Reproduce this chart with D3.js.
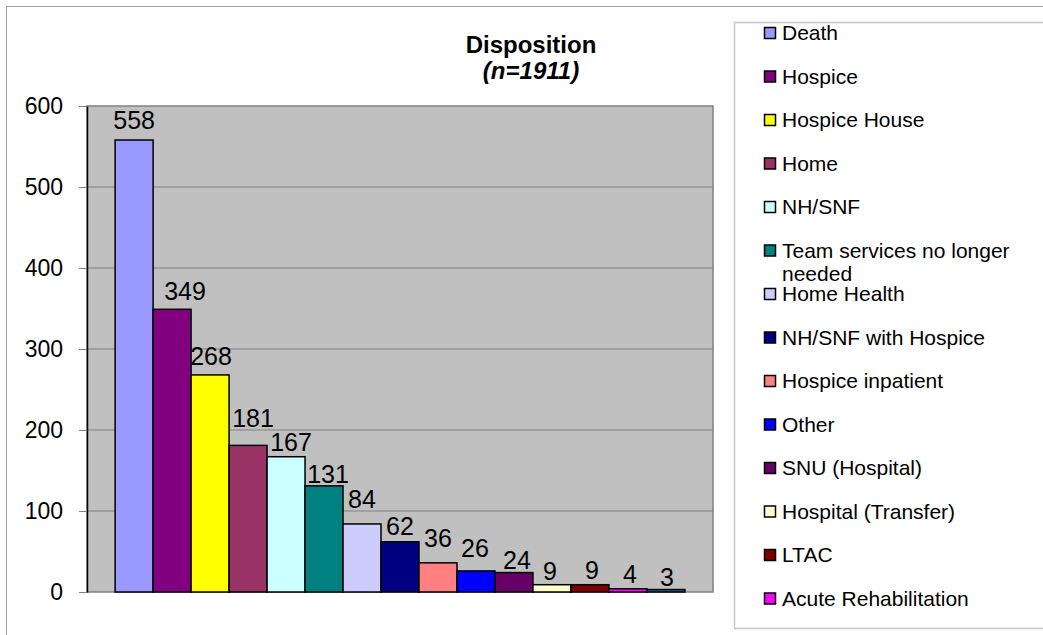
<!DOCTYPE html>
<html>
<head>
<meta charset="utf-8">
<script src="https://cdn.jsdelivr.net/npm/d3@7"></script>
<style>
  body { margin: 0; background: #fff; }
  text { font-family: "Liberation Sans", Arial, sans-serif; fill: #000; }
</style>
</head>
<body>
<div id="chart"></div>
<script>
// chart data
const categories = ["Death", "Hospice", "Hospice House", "Home", "NH/SNF",
    "Team services no longer needed", "Home Health", "NH/SNF with Hospice",
    "Hospice inpatient", "Other", "SNU (Hospital)", "Hospital (Transfer)",
    "LTAC", "Acute Rehabilitation", "Unlisted"];
const counts = [558, 349, 268, 181, 167, 131, 84, 62, 36, 26, 24, 9, 9, 4, 3];
const barColors = ["#9999FF", "#800080", "#FFFF00", "#993366", "#CCFFFF",
    "#008080", "#CCCCFF", "#000080", "#FF8080", "#0000FF", "#660066",
    "#FFFFCC", "#800000", "#FF00FF", "#336699"];
const yTicks = [0, 100, 200, 300, 400, 500, 600];
// legend shows only the first 14 entries (last one is clipped in the original)
const legendCount = 14;

// hand-placed label offsets, as in the original
const labelDx = [0, 13, 1, 5, 5, 4, 0, 0, 0, -1, 3, -2, 2, 2, 1];
const labelGap = [11, 9, 10, 18, 6, 3, 16, 7, 16, 14, 4, 5, 6, 6, 4];

let width = 1043, height = 635;
let plot = { left: 87, right: 713, top: 106, bottom: 592 };

let svg = d3.select("#chart")
    .append("svg")
    .attr("width", width)
    .attr("height", height);

// outer chart border
svg.append("rect")
    .attr("x", 6.5).attr("y", 6.5)
    .attr("width", width + 20).attr("height", height + 20)
    .attr("fill", "#fff")
    .attr("stroke", "#a0a0a0");

// title
svg.append("text")
    .attr("x", 531).attr("y", 53)
    .attr("text-anchor", "middle")
    .style("font-size", "24px").style("font-weight", "bold")
    .text("Disposition");
svg.append("text")
    .attr("x", 531).attr("y", 79)
    .attr("text-anchor", "middle")
    .style("font-size", "24px").style("font-weight", "bold").style("font-style", "italic")
    .text("(n=1911)");

var x = d3.scaleBand()
    .domain(categories)
    .range([plot.left, plot.right])
    .paddingInner(0)
    .paddingOuter(0.74);

var y = d3.scaleLinear()
    .domain([0, 600])
    .range([plot.bottom, plot.top]);

// plot area
svg.append("rect")
    .attr("x", plot.left).attr("y", plot.top)
    .attr("width", plot.right - plot.left)
    .attr("height", plot.bottom - plot.top)
    .attr("fill", "#C0C0C0")
    .attr("stroke", "#808080")
    .attr("stroke-width", 1.5);

// gridlines
svg.append("g")
    .selectAll("line")
    .data(yTicks.filter(function (d) { return d > 0 && d < 600; }))
    .enter()
    .append("line")
    .attr("x1", plot.left).attr("x2", plot.right)
    .attr("y1", function (d) { return y(d); })
    .attr("y2", function (d) { return y(d); })
    .attr("stroke", "#808080")
    .attr("stroke-width", 1);

// y axis
let yAxis = svg.append("g")
    .attr("transform", "translate(" + plot.left + ",0)")
    .call(d3.axisLeft(y).tickValues(yTicks).tickSize(8).tickPadding(16).tickSizeOuter(0));
yAxis.select(".domain").attr("stroke", "#000").attr("stroke-width", 1.5);
yAxis.selectAll(".tick line").attr("stroke", "#808080");
yAxis.selectAll(".tick text")
    .style("font-size", "23px")
    .style("font-family", "'Liberation Sans', Arial, sans-serif")
    .attr("fill", "#000");

// bars
svg.append("g")
    .selectAll("rect")
    .data(counts)
    .enter()
    .append("rect")
    .attr("x", function (d, i) { return x(categories[i]); })
    .attr("y", function (d) { return y(d); })
    .attr("width", x.bandwidth())
    .attr("height", function (d) { return y(0) - y(d); })
    .attr("fill", function (d, i) { return barColors[i]; })
    .attr("stroke", "#000")
    .attr("stroke-width", 1.5);

// value labels
svg.append("g")
    .selectAll("text")
    .data(counts)
    .enter()
    .append("text")
    .attr("x", function (d, i) { return x(categories[i]) + x.bandwidth() / 2 + labelDx[i]; })
    .attr("y", function (d, i) { return y(d) - labelGap[i]; })
    .attr("text-anchor", "middle")
    .style("font-size", "25px")
    .text(function (d) { return d; });

// legend box
svg.append("rect")
    .attr("x", 734.5).attr("y", 22.5)
    .attr("width", 400).attr("height", 606)
    .attr("fill", "#fff")
    .attr("stroke", "#c8c8c8")
    .attr("stroke-width", 1.5);

let legend = svg.append("g")
    .selectAll("g")
    .data(categories.slice(0, legendCount))
    .enter()
    .append("g")
    .attr("transform", function (d, i) { return "translate(764," + (32.5 + i * 43.5) + ")"; });

legend.append("rect")
    .attr("x", 0.5).attr("y", -5)
    .attr("width", 11).attr("height", 11)
    .attr("fill", function (d, i) { return barColors[i]; })
    .attr("stroke", "#000")
    .attr("stroke-width", 1.5);

legend.append("text")
    .attr("x", 18).attr("y", 7.5)
    .style("font-size", "21px")
    .each(function (d) {
        let t = d3.select(this);
        let lines = d == "Team services no longer needed" ? ["Team services no longer", "needed"] : [d];
        lines.forEach(function (s, k) {
            t.append("tspan").attr("x", 18).attr("dy", k == 0 ? 0 : 23).text(s);
        });
    });
</script>
</body>
</html>
